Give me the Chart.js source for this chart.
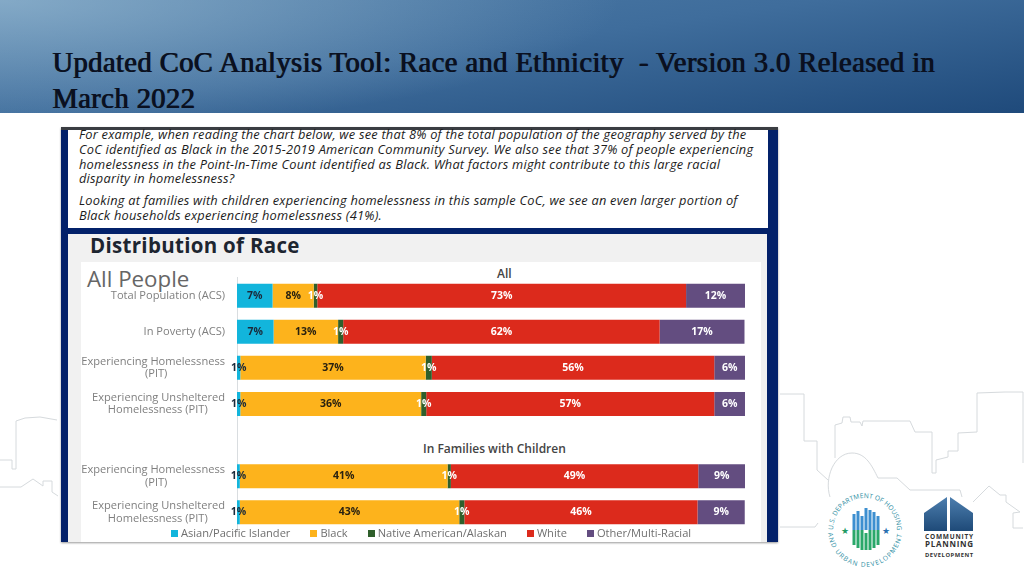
<!DOCTYPE html>
<html>
<head>
<meta charset="utf-8">
<title>Updated CoC Analysis Tool</title>
<script src="https://cdn.jsdelivr.net/npm/chart.js@4"></script>
<style>
html, body { margin: 0; padding: 0; background: #fff; }
#slide { position: relative; width: 1024px; height: 576px; overflow: hidden; background: #fff; font-family: "Open Sans", sans-serif; }
#slide > * { position: absolute; }
#header { left: 0; top: 0; width: 1024px; height: 113px; background: radial-gradient(ellipse 620px 130px at 0 0, rgba(150,185,210,.75), rgba(150,185,210,0)), linear-gradient(172deg, #4d7ba6 0%, #3f6d9c 45%, #1f4a7b 100%); }
.title { left: 52px; font: 28.5px "Liberation Serif", serif; letter-spacing: .44px; color: #0a1020; text-shadow: 1px 0 0 #0a1020; white-space: pre; }
#skyline { left: 0; top: 0; }
#frame { left: 61px; top: 127px; width: 717px; height: 415px; background: #03216a; box-shadow: 0 1px 2px #999; }
#topbar { left: 61px; top: 127px; width: 717px; height: 3px; background: #3a3d42; }
#note { left: 68px; top: 130px; width: 700px; height: 98px; background: #fff; }
#panel { left: 68px; top: 234px; width: 699px; height: 308px; background: #f1f1f1; }
#chartbox { left: 81px; top: 262px; width: 680px; height: 280px; background: #fff; }
.line { left: 79px; font: italic 12.8px "Open Sans", sans-serif; letter-spacing: .23px; color: #1c1c1c; white-space: pre; line-height: 14px; }
#heading { left: 90px; top: 234px; font: bold 20.5px "Open Sans", sans-serif; letter-spacing: .3px; color: #1d2530; line-height: 22px; }
#allPeople { left: 87px; top: 265px; font: 22.3px "Open Sans", sans-serif; color: #666; line-height: 27px; }
.group { font: 600 12px "Open Sans", sans-serif; color: #444; line-height: 14px; white-space: pre; }
#chart { left: 81px; top: 262px; }
#legend { left: 131px; top: 526px; width: 600px; display: flex; justify-content: center; gap: 20px; font: 11.1px "Open Sans", sans-serif; color: #6f6f6f; line-height: 14px; white-space: nowrap; }
#legend i { display: inline-block; width: 7px; height: 7px; margin-right: 3px; }
</style>
</head>
<body>
<div id="slide">
  <div id="header"></div>
  <div class="title" style="top:47px">Updated CoC Analysis Tool: Race and Ethnicity  - Version 3.0 Released in</div>
  <div class="title" style="top:83px">March 2022</div>

  <svg id="skyline" width="1024" height="576" fill="none" stroke="#d6dadd" stroke-width="1">
    <polyline points="0,460 12,460 12,469 16,469 16,421 25,418 40,417 57,420"/>
    <polyline points="0,487 21,487 33,479 43,486 43,481 52,481 52,492 58,496"/>
    <polyline points="780,394 804,394 804,441 817,441 817,470 828,480"/>
    <polyline points="835,458 835,425 842,423 843,417 850,417 851,422 860,422 862,426 863,421 910,421 915,432 932,432 932,473 936,473 936,460 948,457 948,451 958,451 958,433 977,432 977,393 1005,392 1023,392 1023,463"/>
    <path d="M830,497 C824,478 834,453 852,453 C866,453 872,466 878,478 L897,478 L910,490 L960,490 L962,497"/>
    <polyline points="973,502 989,486 1000,495 1006,495 1006,502 1020,512 1013,513 1013,528 1023,528"/>
    <polyline points="780,527 815,527 818,523"/>
  </svg>

  <svg style="left:824px;top:490px" width="84" height="82" viewBox="824 490 84 82">
    <defs>
      <path id="sealTop" d="M833,530 A32,32 0 0 1 897,530"/>
      <path id="sealBottom" d="M828,530 A37,37 0 0 0 902,530"/>
    </defs>
    <text font-family="Open Sans" font-size="6.6" fill="#2d8ea3" letter-spacing=".1"><textPath href="#sealTop">U.S. DEPARTMENT OF HOUSING</textPath></text>
    <text font-family="Open Sans" font-size="6.6" fill="#2d8ea3" letter-spacing="1.1"><textPath href="#sealBottom" startOffset="3">AND URBAN DEVELOPMENT</textPath></text>
    <text x="845" y="534" font-size="9" text-anchor="middle" fill="#1f9a63">★</text>
    <text x="886" y="534" font-size="9" text-anchor="middle" fill="#2a6fb0">★</text>
    <path d="M854,530V514M858,530V511M862,530V516M866,530V508M870,530V510M874,530V512M878,530V516" stroke="#3d8fd0" stroke-width="3"/>
    <path d="M854,530V545M858,530V548M862,530V550M866,533V550M870,530V550M874,530V548M878,530V545" stroke="#2aa86a" stroke-width="3"/>
  </svg>

  <svg style="left:920px;top:494px" width="58" height="66" viewBox="920 494 58 66">
    <defs><linearGradient id="cpdBlue" x1="0" y1="0" x2="0" y2="1"><stop offset="0" stop-color="#4d7eae"/><stop offset="1" stop-color="#1e4a78"/></linearGradient></defs>
    <polygon points="924,513 947,497 947,531 924,531" fill="url(#cpdBlue)"/>
    <polygon points="950,497 973,513 973,531 950,531" fill="url(#cpdBlue)"/>
    <text x="925" y="539" font-family="Open Sans" font-weight="700" font-size="6.5" fill="#333" textLength="48">COMMUNITY</text>
    <text x="925" y="547" font-family="Open Sans" font-weight="700" font-size="8" fill="#333" textLength="48">PLANNING</text>
    <text x="925" y="557" font-family="Open Sans" font-weight="700" font-size="5.8" fill="#333" textLength="48">DEVELOPMENT</text>
  </svg>

  <div id="frame"></div>
  <div id="note"></div>
  <div id="topbar"></div>
  <div id="panel"></div>
  <div id="chartbox"></div>

  <div class="line" style="top:127px">For example, when reading the chart below, we see that 8% of the total population of the geography served by the</div>
  <div class="line" style="top:142px">CoC identified as Black in the 2015-2019 American Community Survey. We also see that 37% of people experiencing</div>
  <div class="line" style="top:157px">homelessness in the Point-In-Time Count identified as Black. What factors might contribute to this large racial</div>
  <div class="line" style="top:171px">disparity in homelessness?</div>
  <div class="line" style="top:193px">Looking at families with children experiencing homelessness in this sample CoC, we see an even larger portion of</div>
  <div class="line" style="top:208px">Black households experiencing homelessness (41%).</div>

  <div id="heading">Distribution of Race</div>
  <div id="allPeople">All People</div>
  <div class="group" style="left:497px;top:267px">All</div>
  <div class="group" style="left:423px;top:442px">In Families with Children</div>

  <canvas id="chart" width="680" height="280"></canvas>
  <div id="legend"></div>
</div>

<script>
const nbsp = n => '\u00a0'.repeat(n);

const categories = [
    'Total Population (ACS)',
    'In Poverty (ACS)',
    ['Experiencing Homelessness', '(PIT)' + nbsp(20)],
    ['Experiencing Unsheltered', 'Homelessness (PIT)' + nbsp(6)],
    '',
    ['Experiencing Homelessness', '(PIT)' + nbsp(20)],
    ['Experiencing Unsheltered', 'Homelessness (PIT)' + nbsp(6)]
];

const seriesNames = ['Asian/Pacific Islander', 'Black', 'Native American/Alaskan', 'White', 'Other/Multi-Racial'];
const seriesColors = ['#12b5dc', '#fdb31c', '#2f5f2b', '#dc2a1c', '#634d80'];
const labelColors = ['#1b2a3a', '#2a2210', '#ffffff', '#ffffff', '#ffffff'];

// labels on the picture are these rounded
const asianValues = [7, 7.2, 0.65, 0.65, null, 0.55, 0.55];
const blackValues = [8.1, 12.7, 36.5, 35.6, null, 40.9, 43.2];
const nativeValues = [0.7, 1, 1.2, 1, null, 0.65, 1];
const whiteValues = [72.6, 62.3, 55.6, 56.7, null, 48.7, 45.9];
const otherValues = [11.6, 16.7, 6.1, 6.1, null, 9.2, 9.3];
const seriesValues = [asianValues, blackValues, nativeValues, whiteValues, otherValues];

// percent labels in the middle of each segment
const segmentLabels = {
    id: 'segmentLabels',
    afterDatasetsDraw(chart) {
        const ctx = chart.ctx;
        ctx.save();
        ctx.font = 'bold 10.5px "Open Sans"';
        ctx.textAlign = 'center';
        ctx.textBaseline = 'middle';
        chart.data.datasets.forEach((dataset, i) => {
            ctx.fillStyle = labelColors[i];
            chart.getDatasetMeta(i).data.forEach((bar, j) => {
                const value = dataset.data[j];
                if (value === null) return;
                ctx.fillText(Math.round(value) + '%', (bar.x + bar.base) / 2, bar.y);
            });
        });
        ctx.restore();
    }
};

new Chart(document.getElementById('chart'), {
    type: 'bar',
    data: {
        labels: categories,
        datasets: seriesNames.map((name, i) => ({
            label: name,
            data: seriesValues[i],
            backgroundColor: seriesColors[i],
            barPercentage: 0.665,
            categoryPercentage: 1
        }))
    },
    options: {
        indexAxis: 'y',
        responsive: false,
        animation: false,
        layout: { padding: { top: 15.6, right: 16, bottom: 11.7, left: 0 } },
        plugins: { legend: { display: false }, tooltip: { enabled: false } },
        scales: {
            x: { stacked: true, min: 0, max: 100, display: false },
            y: {
                stacked: true,
                afterFit(scale) {
                    // keep the axis box fixed, long labels would push the plot in
                    scale.width = 156;
                    scale.paddingTop = 0;
                    scale.paddingBottom = 0;
                },
                grid: { display: false, drawTicks: false },
                border: { color: '#d9dde0' },
                ticks: {
                    autoSkip: false,
                    padding: 12,
                    color: '#7f7f7f',
                    font: { family: 'Open Sans', size: 11.1, lineHeight: 1.12 }
                }
            }
        }
    },
    plugins: [segmentLabels]
});

// html legend, built from the same series arrays
document.getElementById('legend').innerHTML = seriesNames.map((name, i) =>
    `<span><i style="background:${seriesColors[i]}"></i>${name}</span>`
).join('');
</script>
</body>
</html>
